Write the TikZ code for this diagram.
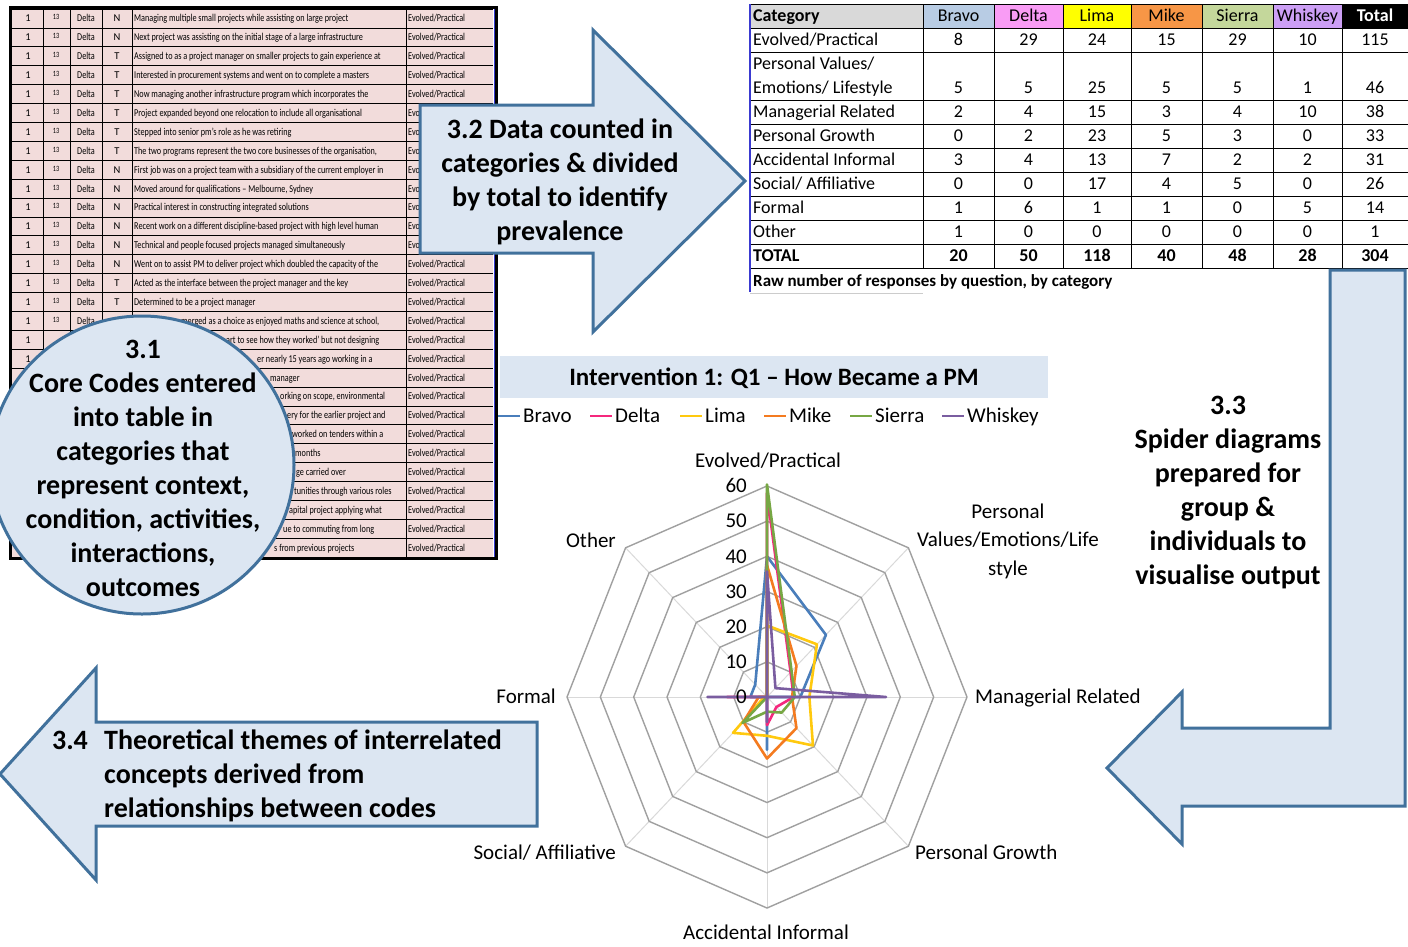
\documentclass[tikz,border=0pt]{standalone}
\usepackage{fontspec}
\setmainfont{Carlito}
\usepackage{graphicx}
\definecolor{arrowfill}{HTML}{DCE6F2}
\definecolor{arrowline}{HTML}{41719C}
\definecolor{rowpink}{HTML}{F2DCDB}
\definecolor{hCat}{HTML}{D9D9D9}
\definecolor{hBravo}{HTML}{B8CCE4}
\definecolor{hDelta}{HTML}{F99CF5}
\definecolor{hLima}{HTML}{FFFF00}
\definecolor{hMike}{HTML}{F79646}
\definecolor{hSierra}{HTML}{C4D79B}
\definecolor{hWhiskey}{HTML}{CC9FF5}
\definecolor{cBravo}{HTML}{4A7EBB}
\definecolor{cDelta}{HTML}{F5287D}
\definecolor{cLima}{HTML}{FFC90E}
\definecolor{cMike}{HTML}{F47B20}
\definecolor{cSierra}{HTML}{77A744}
\definecolor{cWhiskey}{HTML}{7A5DA0}
\definecolor{ringgray}{HTML}{A0A0A0}
\definecolor{spokegray}{HTML}{D9D9D9}
\definecolor{titlefill}{HTML}{DCE6F2}
\definecolor{tblblue}{HTML}{3A3AD0}
\newcommand{\cond}[1]{\scalebox{0.78}[1]{#1}}
\begin{document}
\begin{tikzpicture}[x=1pt,y=-1pt,
  bigtxt/.style={font=\fontsize{28}{34}\selectfont\bfseries, align=center, inner sep=0pt},
  boxshape/.style={fill=arrowfill, draw=arrowline, line width=3pt, line join=miter},
  tinytxt/.style={font=\fontsize{10.5}{12}\selectfont, inner sep=0pt, text height=7pt, text depth=0pt},
  tcell/.style={font=\fontsize{18}{20}\selectfont, inner sep=0pt, text height=11.6pt, text depth=0pt},
  tbold/.style={tcell, font=\fontsize{18}{20}\selectfont\bfseries},
  slab/.style={font=\fontsize{21}{28.5}\selectfont, inner sep=0pt, text height=13.5pt, text depth=0pt},
  slabm/.style={font=\fontsize{21}{28.5}\selectfont, inner sep=0pt, align=center},
  series/.style={line width=2.6pt, line join=round},
  tline/.style={black, line width=0.8pt},
  ring/.style={ringgray, line width=1.4pt},
  spoke/.style={spokegray, line width=1pt}]
\useasboundingbox (0,0) rectangle (1408,946);
\fill[white] (0,0) rectangle (1408,946);

% ---------------- left table ----------------
\fill[rowpink] (12,9) rectangle (493,557);
\foreach \k in {0,...,29} \draw[tline] (12,{9+18.9*\k}) -- (493,{9+18.9*\k});
\foreach \xx in {43,70,102,132,406} \draw[tline] (\xx,9) -- (\xx,557);
\draw[tblblue, line width=0.8pt] (494,9) -- (494,557);
\draw[black, line width=2.5pt] (10.5,7.5) rectangle (496.5,558.5);
% first columns (only where not hidden by the 3.1 circle)
\foreach \i in {1,...,17} {
  \pgfmathsetmacro{\yy}{9+18.9*(\i-0.5)}
  \node[tinytxt] (la\i) at (28,\yy) {1};
  \node[tinytxt, font=\fontsize{8}{9}\selectfont] (lb\i) at (56,\yy-2) {\cond{13}};
  \node[tinytxt] (lc\i) at (86,\yy) {\cond{Delta}};
}
\node[tinytxt] (la18) at (28,{9+18.9*17.5}) {1};
\node[tinytxt] (la19) at (28,{9+18.9*18.5}) {1};
% category column
\foreach \i in {1,...,5,14,15,...,29} {
  \pgfmathsetmacro{\yy}{9+18.9*(\i-0.5)}
  \node[tinytxt, anchor=west] (le\i) at (408,\yy) {\cond{Evolved/Practical}};
}
\foreach \i in {6,...,13} {
  \pgfmathsetmacro{\yy}{9+18.9*(\i-0.5)}
  \node[tinytxt, anchor=west] (le\i) at (408,\yy) {\cond{Evo}};
}
\foreach \i/\nt/\txt in {
 1/N/{Managing multiple small projects while assisting on large project},
 2/N/{Next project was assisting on the initial stage of a large infrastructure},
 3/T/{Assigned to as a project manager on smaller projects to gain experience at},
 4/T/{Interested in procurement systems and went on to complete a masters},
 5/T/{Now managing another infrastructure program which incorporates the},
 6/T/{Project expanded beyond one relocation to include all organisational},
 7/T/{Stepped into senior pm’s role as he was retiring},
 8/T/{The two programs represent the two core businesses of the organisation,},
 9/N/{First job was on a project team with a subsidiary of the current employer in},
 10/N/{Moved around for qualifications – Melbourne, Sydney},
 11/N/{Practical interest in constructing integrated solutions},
 12/N/{Recent work on a different discipline-based project with high level human},
 13/N/{Technical and people focused projects managed simultaneously},
 14/N/{Went on to assist PM to deliver project which doubled the capacity of the},
 15/T/{Acted as the interface between the project manager and the key},
 16/T/{Determined to be a project manager}} {
  \pgfmathsetmacro{\yy}{9+18.9*(\i-0.5)}
  \node[tinytxt] (ln\i) at (117,\yy) {\nt};
  \node[tinytxt, anchor=west] (lt\i) at (134,\yy) {\cond{\txt}};
}
\foreach \i/\xx/\txt in {
 17/181/{merged as a choice as enjoyed maths and science at school,},
 18/226/{art to see how they worked’ but not designing},
 19/257/{er nearly 15 years ago working in a},
 20/270/{manager},
 21/280/{orking on scope, environmental},
 22/287/{ery for the earlier project and},
 23/292/{worked on tenders within a},
 24/295/{months},
 25/296/{ge carried over},
 26/294/{tunities through various roles},
 27/289/{apital project applying what},
 28/283/{ue to commuting from long},
 29/274/{s from previous projects}} {
  \pgfmathsetmacro{\yy}{9+18.9*(\i-0.5)}
  \node[tinytxt, anchor=west] (lt\i) at (\xx,\yy) {\cond{\txt}};
}

% ---------------- 3.1 circle ----------------
\draw[boxshape] (142,465) ellipse [x radius=152pt, y radius=149pt];
\node[bigtxt] (t31) at (143,468) {3.1\\Core Codes entered\\into table in\\categories that\\represent context,\\condition, activities,\\interactions,\\outcomes};

% ---------------- 3.2 arrow ----------------
\draw[boxshape] (420,105) -- (593,105) -- (593,30) -- (745,181) -- (593,332) -- (593,253) -- (420,253) -- cycle;
\node[bigtxt] (t32) at (560,182) {3.2 Data counted in\\categories \& divided\\by total to identify\\prevalence};

% ---------------- right table ----------------
\fill[hCat] (750,4) rectangle (923,28);
\fill[hBravo] (923,4) rectangle (994,28);
\fill[hDelta] (994,4) rectangle (1063,28);
\fill[hLima] (1063,4) rectangle (1131,28);
\fill[hMike] (1131,4) rectangle (1202,28);
\fill[hSierra] (1202,4) rectangle (1273,28);
\fill[hWhiskey] (1273,4) rectangle (1342,28);
\fill[black] (1342,4) rectangle (1408,28);
\foreach \yy in {4,28,52,100,124,148,172,196,220,244,268} \draw[tline] (750,\yy) -- (1408,\yy);
\foreach \xx in {923,994,1063,1131,1202,1273,1342} \draw[tline] (\xx,4) -- (\xx,268);
\draw[tblblue, line width=1.2pt] (750,4) -- (750,292);
\draw[gray!40, line width=0.8pt] (750,293) -- (923,293);
\node[tbold, anchor=west] (hcat) at (753,16) {Category};
\foreach \xx/\nm in {958.5/Bravo,1028.5/Delta,1097/Lima,1166.5/Mike,1237.5/Sierra,1307.5/Whiskey}
  \node[tcell] (h\nm) at (\xx,16) {\nm};
\node[tbold, text=white] (htot) at (1375,16) {Total};
\node[tcell, anchor=west] (r1) at (753,40) {Evolved/Practical};
\node[tcell, anchor=west] (r2a) at (753,64) {Personal Values/};
\node[tcell, anchor=west] (r2b) at (753,88) {Emotions/ Lifestyle};
\node[tcell, anchor=west] (r3) at (753,112) {Managerial Related};
\node[tcell, anchor=west] (r4) at (753,136) {Personal Growth};
\node[tcell, anchor=west] (r5) at (753,160) {Accidental Informal};
\node[tcell, anchor=west] (r6) at (753,184) {Social/ Affiliative};
\node[tcell, anchor=west] (r7) at (753,208) {Formal};
\node[tcell, anchor=west] (r8) at (753,232) {Other};
\node[tbold, anchor=west] (r9) at (753,256) {TOTAL};
\foreach \yy/\a/\b/\c/\d/\e/\f/\g [count=\r] in {40/8/29/24/15/29/10/115, 88/5/5/25/5/5/1/46, 112/2/4/15/3/4/10/38, 136/0/2/23/5/3/0/33, 160/3/4/13/7/2/2/31, 184/0/0/17/4/5/0/26, 208/1/6/1/1/0/5/14, 232/1/0/0/0/0/0/1} {
  \node[tcell] (v\r-a) at (958.5,\yy) {\a};
  \node[tcell] (v\r-b) at (1028.5,\yy) {\b};
  \node[tcell] (v\r-c) at (1097,\yy) {\c};
  \node[tcell] (v\r-d) at (1166.5,\yy) {\d};
  \node[tcell] (v\r-e) at (1237.5,\yy) {\e};
  \node[tcell] (v\r-f) at (1307.5,\yy) {\f};
  \node[tcell] (v\r-g) at (1375,\yy) {\g};
}
\foreach \xx/\v [count=\c] in {958.5/20,1028.5/50,1097/118,1166.5/40,1237.5/48,1307.5/28,1375/304}
  \node[tbold] (tot\c) at (\xx,256) {\v};
\node[tbold, font=\fontsize{17}{19}\selectfont\bfseries, anchor=west] (cap) at (753,281) {Raw number of responses by question, by category};

% ---------------- 3.3 arrow ----------------
\draw[boxshape] (1330,270) -- (1405,270) -- (1405,806) -- (1182,806) -- (1182,844) -- (1107,768) -- (1182,692) -- (1182,728) -- (1330,728) -- cycle;
\node[bigtxt] (t33) at (1228,493) {3.3\\Spider diagrams\\prepared for\\group \&\\individuals to\\visualise output};

% ---------------- chart ----------------
\fill[titlefill] (500,356) rectangle (1048,398);
\node[font=\fontsize{25}{29}\selectfont\bfseries, inner sep=0pt, text height=16pt, text depth=0pt] (title) at (774,377) {Intervention 1: Q1 – How Became a PM};
\foreach \xa/\nm/\col in {498/Bravo/cBravo, 590/Delta/cDelta, 680/Lima/cLima, 764/Mike/cMike, 850/Sierra/cSierra, 942/Whiskey/cWhiskey} {
  \coordinate (lg\nm) at (\xa,416);
  \draw[\col, line width=2.6pt] (lg\nm) -- ++(22,0) coordinate (lge\nm);
  \node[slab, anchor=west] (lt\nm) at ([xshift=3pt]lge\nm) {\nm};
}
\begin{scope}[shift={(767pt,-697pt)}, x=3.333pt, y=3.517pt]
  \foreach \a in {0,45,...,315} \draw[spoke] (0,0) -- (\a:60);
  \foreach \r in {10,20,...,60}
    \draw[ring] (90:\r) -- (45:\r) -- (0:\r) -- (-45:\r) -- (-90:\r) -- (-135:\r) -- (180:\r) -- (135:\r) -- cycle;
  \draw[series, cBravo] (90:40) -- (45:25) -- (0:10) -- (-45:0) -- (-90:15) -- (-135:0) -- (180:5) -- (135:5) -- cycle;
  \draw[series, cDelta] (90:58) -- (45:10) -- (0:8) -- (-45:4) -- (-90:8) -- (-135:0) -- (180:12) -- (135:0) -- cycle;
  \draw[series, cLima] (90:20.34) -- (45:21.19) -- (0:12.71) -- (-45:19.49) -- (-90:11.02) -- (-135:14.41) -- (180:0.85) -- (135:0) -- cycle;
  \draw[series, cMike] (90:37.5) -- (45:12.5) -- (0:7.5) -- (-45:12.5) -- (-90:17.5) -- (-135:10) -- (180:2.5) -- (135:0) -- cycle;
  \draw[series, cSierra] (90:60.42) -- (45:10.42) -- (0:8.33) -- (-45:6.25) -- (-90:4.17) -- (-135:10.42) -- (180:0) -- (135:0) -- cycle;
  \draw[series, cWhiskey] (90:35.71) -- (45:3.57) -- (0:35.71) -- (-45:0) -- (-90:7.14) -- (-135:0) -- (180:17.86) -- (135:0) -- cycle;
\end{scope}
\foreach \v [count=\k from 0] in {0,10,20,30,40,50,60}
  \node[slab, anchor=east] (tick\v) at (747,{697-35.17*\k}) {\v};
\node[slab] (axA) at (768,461) {Evolved/Practical};
\node[slabm] (axB) at (1008,541) {Personal\\Values/Emotions/Life\\style};
\node[slab, anchor=west] (axC) at (975,697) {Managerial Related};
\node[slab, anchor=west] (axD) at (915,853) {Personal Growth};
\node[slab] (axE) at (766,933) {Accidental Informal};
\node[slab, anchor=east] (axF) at (616,853) {Social/ Affiliative};
\node[slab, anchor=east] (axG) at (556,697) {Formal};
\node[slab, anchor=east] (axH) at (616,541) {Other};

% ---------------- 3.4 arrow ----------------
\draw[boxshape] (537,722) -- (537,826) -- (96,826) -- (96,880) -- (0,774) -- (96,668) -- (96,722) -- cycle;
\node[font=\fontsize{28}{34}\selectfont\bfseries, inner sep=0pt, text height=18pt, text depth=0pt] (n34) at (70,740) {3.4};
\node[bigtxt, align=left, anchor=west] (t34) at (104,776) {Theoretical themes of interrelated\\concepts derived from\\relationships between codes};
\end{tikzpicture}
\end{document}
